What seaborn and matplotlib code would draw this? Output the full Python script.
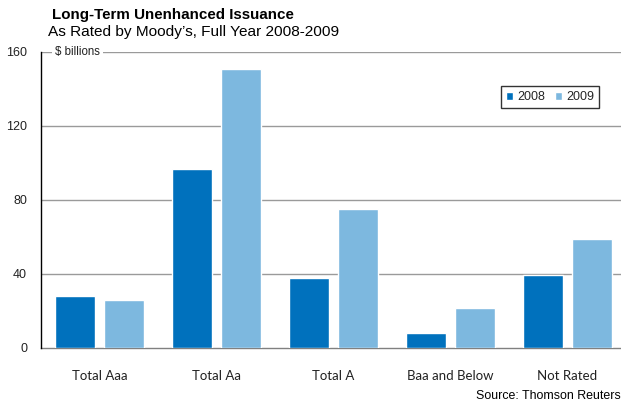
import matplotlib
matplotlib.use("Agg")
import matplotlib.pyplot as plt
import seaborn as sns
import pandas as pd

categories = ["Total Aaa", "Total Aa", "Total A", "Baa and Below", "Not Rated"]
issuance_2008 = [28, 97, 38, 8, 39.5]
issuance_2009 = [26, 151, 75, 21.5, 59]
years = ["2008", "2009"]
y_ticks = [0, 40, 80, 120, 160]

df = pd.DataFrame({
    "category": categories * 2,
    "year": [years[0]] * len(categories) + [years[1]] * len(categories),
    "value": issuance_2008 + issuance_2009,
})

sns.set_theme(style="white")
plt.rcParams["font.family"] = ["Liberation Sans", "DejaVu Sans"]

fig = plt.figure(figsize=(6.21, 4.07), dpi=100)
ax = fig.add_axes([41 / 621, 59 / 407, 585 / 621, 296 / 407])

palette = {"2008": "#0071BD", "2009": "#7DB8DF"}
sns.barplot(data=df, x="category", y="value", hue="year", order=categories,
            hue_order=years, palette=palette, width=0.838, gap=0.18,
            saturation=1, ax=ax, zorder=3)

ax.set_xlim(-0.5, 4.5)
ax.set_ylim(0, 160)
ax.set_yticks(y_ticks)
ax.set_yticklabels([str(t) for t in y_ticks], fontsize=9, color="#222222")
ax.tick_params(axis="y", length=5, width=0.8, color="#888888", pad=5)
ax.tick_params(axis="x", length=0, pad=16)
for lbl in ax.get_xticklabels():
    lbl.set_fontfamily(["Lato", "DejaVu Sans"])
    lbl.set_fontsize(9.5)
    lbl.set_color("#222222")
ax.set_xlabel("")
ax.set_ylabel("")

# gridlines
for t in y_ticks[1:]:
    ax.axhline(t, color="#9A9A9A", linewidth=1.0, zorder=1)

for side in ["top", "right"]:
    ax.spines[side].set_visible(False)
ax.spines["left"].set_color("black")
ax.spines["left"].set_linewidth(1.0)
ax.spines["bottom"].set_color("#808080")
ax.spines["bottom"].set_linewidth(1.0)
ax.spines["left"].set_zorder(4)

ax.text(-0.38, 160, "$ billions", fontsize=8.3, color="#222222", va="center",
        ha="left", zorder=5,
        bbox=dict(facecolor="white", edgecolor="none", pad=2))

leg = ax.legend(loc="upper right", bbox_to_anchor=(0.9645, 0.905), ncol=2,
                frameon=True, fontsize=9, handlelength=0.6, handleheight=0.6,
                handletextpad=0.3, columnspacing=0.8, borderpad=0.4,
                fancybox=False)
leg.get_frame().set_edgecolor("black")
leg.get_frame().set_linewidth(1.0)

fig.text(52 / 621, 1 - 15 / 407, "Long-Term Unenhanced Issuance", fontsize=10.9,
         fontweight="bold", va="center", ha="left", color="black")
fig.text(48 / 621, 1 - 32 / 407, "As Rated by Moody\u2019s, Full Year 2008-2009",
         fontsize=11.1, va="center", ha="left", color="black")
fig.text(621 / 621, 1 - 396 / 407, "Source: Thomson Reuters", fontsize=8.9,
         va="center", ha="right", color="black")

fig.savefig("out.png", dpi=100)
